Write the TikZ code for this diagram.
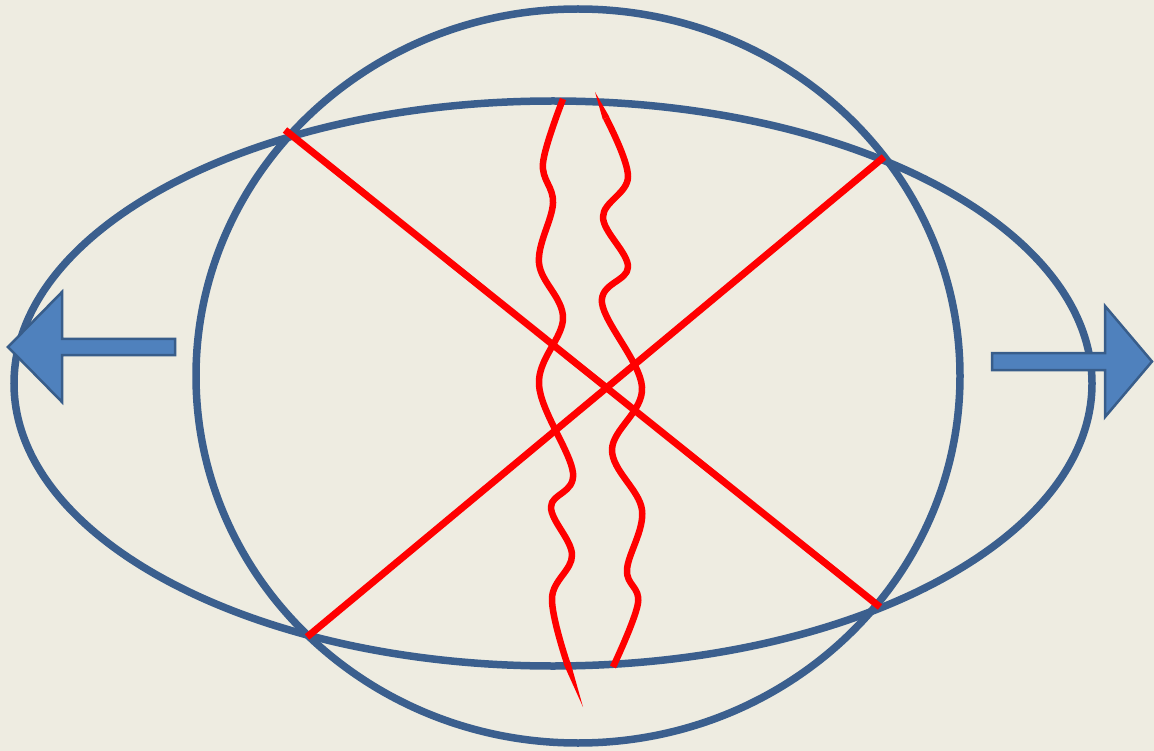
\documentclass[tikz,border=0pt]{standalone}
\usetikzlibrary{calc}
\definecolor{bgtan}{HTML}{EEECE1}
\definecolor{ringblue}{HTML}{3B5F8E}
\definecolor{arrowfill}{HTML}{4F81BD}
\definecolor{arrowedge}{HTML}{385D8A}
\definecolor{cutred}{HTML}{FF0000}
\tikzset{
  ring/.style={draw=ringblue, line width=7.5pt},
  cutline/.style={draw=cutred, line width=7pt, line cap=butt},
  waveline/.style={draw=cutred, line width=6.5pt, line cap=butt, line join=round},
  taper/.style={fill=cutred, draw=none},
  bigarrow/.style={fill=arrowfill, draw=arrowedge, line width=2.5pt, line join=miter}
}
\begin{document}
\begin{tikzpicture}[x=1pt,y=-1pt]
\fill[bgtan] (0,0) rectangle (1154,751);
\useasboundingbox (0,0) rectangle (1154,751);
% circle and ellipse
\draw[ring] (578,376) ellipse [x radius=382, y radius=367];
\draw[ring] (553,383.5) ellipse [x radius=539, y radius=282.5];
% straight red lines
\coordinate (a1) at (285,130);
\coordinate (a2) at (880,607);
\coordinate (b1) at (307,637);
\coordinate (b2) at (884,157);
\draw[cutline] (a1) -- (a2);
\draw[cutline] (b1) -- (b2);
% left wavy line
\draw[waveline] plot[smooth, tension=0.6] coordinates {
  (563,99) (543,163) (553,203) (539,263) (563,318) (539,385)
  (573,473) (551,507) (572,555) (552,598) (567,663)};
\fill[taper] (563.7,664.2) -- (570.3,661.8) -- (583,707) -- cycle;
% right wavy line
\fill[taper] (595,92) -- (609.2,116.6) -- (602.8,119.4) -- cycle;
\draw[waveline] plot[smooth, tension=0.6] coordinates {
  (606,118) (628,177) (603,217) (628,267) (602,303) (642,387)
  (612,450) (642,510) (627,570) (638,603) (613,667)};
% arrows
\draw[bigarrow] (8,347) -- (62,292) -- (62,339) -- (175,339) -- (175,355)
  -- (62,355) -- (62,402) -- cycle;
\draw[bigarrow] (992,353) -- (1105,353) -- (1105,306) -- (1152,361.5)
  -- (1105,417) -- (1105,370) -- (992,370) -- cycle;
\end{tikzpicture}
\end{document}
